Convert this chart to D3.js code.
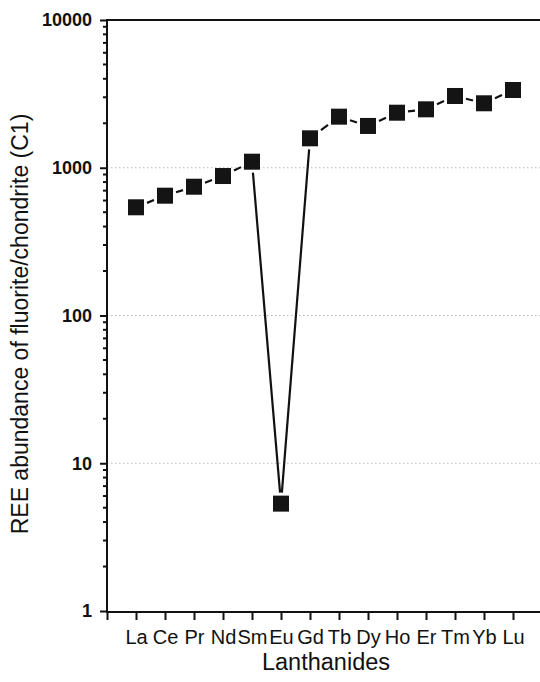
<!DOCTYPE html>
<html>
<head>
<meta charset="utf-8">
<script src="https://cdn.jsdelivr.net/npm/d3@7"></script>
<style>
	body { margin: 0; background: #fff; }
	text { font-family: "Liberation Sans", Arial, sans-serif; fill: #111; }
</style>
</head>
<body>
<div class="chart"></div>
<script>
// Lanthanides along the x axis, index 1..14
var elements = ["La", "Ce", "Pr", "Nd", "Sm", "Eu", "Gd", "Tb", "Dy", "Ho", "Er", "Tm", "Yb", "Lu"];
// REE abundance of fluorite normalised to chondrite (C1)
var abundance = [540, 647, 744, 879, 1099, 5.33, 1582, 2217, 1918, 2358, 2486, 3060, 2731, 3359];
var yMajorTicks = [1, 10, 100, 1000, 10000];
var yTickLabels = ["1", "10", "100", "1000", "10000"];
var yGridValues = [10, 100, 1000];

function minorTicks(){
	// 2..9 inside every decade
	var ticks = [];
	for (var d = 1; d < 10000; d *= 10) {
		for (var k = 2; k < 10; k++) {
			ticks.push(d * k);
		}
	}
	return ticks;
}

function shortSegment(p, q, gap){
	// cut a segment so it stops `gap` px outside the square markers
	var dx = q[0] - p[0], dy = q[1] - p[1];
	var t = gap / Math.max(Math.abs(dx), Math.abs(dy));
	return [[p[0] + dx * t, p[1] + dy * t], [q[0] - dx * t, q[1] - dy * t]];
}

function drawChart(){
	var width = 540, height = 682;
	var left = 107, top = 20, bottom = 611, right = 542;

	var svg = d3.select("div.chart").append("svg")
		.attr("width", width)
		.attr("height", height);

	var x = d3.scaleLinear().domain([0, 15]).range([left, right]);
	var y = d3.scaleLog().domain([1, 10000]).range([bottom, top]);

	// dotted gridlines
	svg.append("g").selectAll("line")
		.data(yGridValues)
		.enter().append("line")
		.attr("x1", left).attr("x2", width)
		.attr("y1", function(d) { return y(d); })
		.attr("y2", function(d) { return y(d); })
		.attr("stroke", "#bbb")
		.attr("stroke-width", 1.2)
		.attr("stroke-dasharray", "1.5,2.5");

	// top border
	svg.append("line")
		.attr("x1", left).attr("x2", width)
		.attr("y1", y(10000)).attr("y2", y(10000))
		.attr("stroke", "#111").attr("stroke-width", 2);

	// y axis, major ticks with labels
	var yAxis = d3.axisLeft(y)
		.tickValues(yMajorTicks)
		.tickFormat(function(d, i) { return yTickLabels[i]; })
		.tickSizeInner(7)
		.tickSizeOuter(0)
		.tickPadding(8);

	var gy = svg.append("g")
		.attr("transform", "translate(" + left + ",0)")
		.call(yAxis);
	gy.select(".domain").attr("stroke", "#111").attr("stroke-width", 2)
		.attr("d", "M0," + (bottom + 1) + "V" + (top - 1));
	gy.selectAll(".tick line").attr("stroke", "#111").attr("stroke-width", 2);
	gy.selectAll(".tick text")
		.style("font-family", "'Liberation Sans', Arial, sans-serif")
		.style("font-weight", "bold")
		.style("font-size", "18px")
		.attr("fill", "#111");

	// y axis, minor ticks
	svg.append("g").selectAll("line")
		.data(minorTicks())
		.enter().append("line")
		.attr("x1", left - 4).attr("x2", left)
		.attr("y1", function(d) { return y(d); })
		.attr("y2", function(d) { return y(d); })
		.attr("stroke", "#111")
		.attr("stroke-width", 2);

	// x axis
	var xAxis = d3.axisBottom(x)
		.tickValues(d3.range(0, elements.length + 1))
		.tickFormat(function(d) { return d === 0 ? "" : elements[d - 1]; })
		.tickSizeInner(8)
		.tickSizeOuter(0)
		.tickPadding(10);

	var gx = svg.append("g")
		.attr("transform", "translate(0," + (bottom + 1) + ")")
		.call(xAxis);
	gx.select(".domain").attr("stroke", "#111").attr("stroke-width", 2)
		.attr("d", "M" + (left - 1) + ",0H" + width);
	gx.selectAll(".tick line").attr("stroke", "#111").attr("stroke-width", 2);
	gx.selectAll(".tick text")
		.style("font-family", "'Liberation Sans', Arial, sans-serif")
		.style("font-size", "20px")
		.attr("fill", "#111");

	// axis titles
	svg.append("text")
		.attr("x", 326)
		.attr("y", 670)
		.attr("text-anchor", "middle")
		.style("font-size", "23.5px")
		.text("Lanthanides");

	svg.append("text")
		.attr("transform", "translate(28,324) rotate(-90)")
		.attr("text-anchor", "middle")
		.style("font-size", "23px")
		.text("REE abundance of fluorite/chondrite (C1)");

	// connecting segments, with a small gap around each marker
	var points = abundance.map(function(v, i) { return [x(i + 1), y(v)]; });
	var segments = [];
	for (var i = 0; i < points.length - 1; i++) {
		segments.push(shortSegment(points[i], points[i + 1], 11));
	}

	svg.append("g").selectAll("line")
		.data(segments)
		.enter().append("line")
		.attr("x1", function(d) { return d[0][0]; })
		.attr("y1", function(d) { return d[0][1]; })
		.attr("x2", function(d) { return d[1][0]; })
		.attr("y2", function(d) { return d[1][1]; })
		.attr("stroke", "#111")
		.attr("stroke-width", 2.2);

	// square markers
	var size = 16;
	svg.append("g").selectAll("rect")
		.data(points)
		.enter().append("rect")
		.attr("x", function(d) { return d[0] - size / 2; })
		.attr("y", function(d) { return d[1] - size / 2; })
		.attr("width", size)
		.attr("height", size)
		.attr("fill", "#141414");
}

drawChart();
</script>
</body>
</html>
